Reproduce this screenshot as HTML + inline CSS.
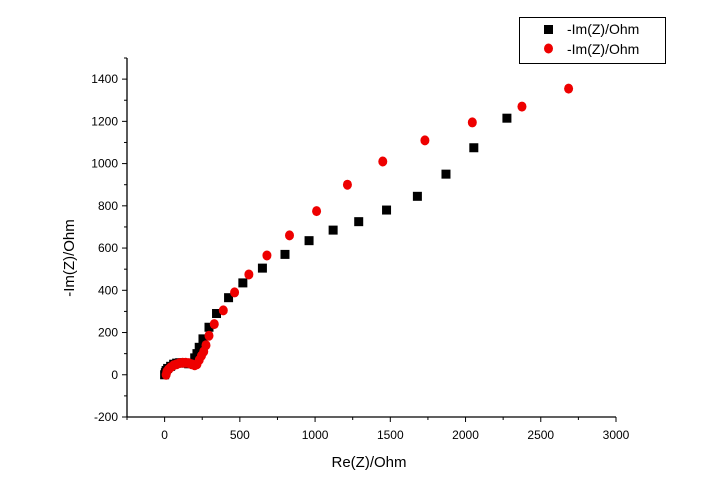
<!DOCTYPE html>
<html><head><meta charset="utf-8"><style>
body{margin:0;background:#fff;}
svg{display:block;font-family:"Liberation Sans",Arial,sans-serif;}
</style></head><body>
<svg id="chart" width="713" height="502">
<g id="axes"></g><g id="marks"></g>
<g>
<rect x="519.5" y="17.5" width="146" height="46" fill="#fff" stroke="#000" stroke-width="1"/>
<rect x="544" y="25" width="9" height="9" fill="#000"/>
<text x="567" y="34" font-size="14">-Im(Z)/Ohm</text>
<ellipse cx="548.5" cy="48.5" rx="4.5" ry="5" fill="#e00"/>
<text x="567" y="54" font-size="14">-Im(Z)/Ohm</text>
</g>
<text x="369" y="467" font-size="15" text-anchor="middle">Re(Z)/Ohm</text>
<text transform="translate(74,258) rotate(-90)" font-size="15" text-anchor="middle">-Im(Z)/Ohm</text>
</svg>
<script>
const xTicks=[0,500,1000,1500,2000,2500,3000];
const yTicks=[-200,0,200,400,600,800,1000,1200,1400];
const blackX=[0,5,10,20,40,60,80,100,120,140,160,180,200,215,230,255,295,345,425,520,650,800,960,1120,1290,1475,1680,1870,2055,2275];
const blackY=[0,10,20,30,40,50,55,57,57,55,52,55,80,100,130,170,225,290,365,435,505,570,635,685,725,780,845,950,1075,1215];
const redX=[10,15,25,40,60,80,100,120,140,160,180,200,215,230,245,260,275,295,330,390,465,560,680,830,1010,1215,1450,1730,2045,2375,2685];
const redY=[0,15,25,35,45,50,55,57,57,55,50,45,50,70,90,110,140,185,240,305,390,475,565,660,775,900,1010,1110,1195,1270,1355];
const X0=127,X1=616,XMIN=-250,XMAX=3000,Y0=417,Y1=58,YMIN=-200,YMAX=1500;
const sx=v=>X0+(v-XMIN)/(XMAX-XMIN)*(X1-X0);
const sy=v=>Y0-(v-YMIN)/(YMAX-YMIN)*(Y0-Y1);
const NS="http://www.w3.org/2000/svg";
const axes=document.getElementById('axes'),marks=document.getElementById('marks');
function mk(t,a,p){const e=document.createElementNS(NS,t);for(const k in a)e.setAttribute(k,a[k]);p.appendChild(e);return e;}
let e;
e=mk('line',{x1:X0,y1:Y0,x2:X1,y2:Y0,stroke:'#000','stroke-width':1.3},axes);


e=mk('line',{x1:X0,y1:Y0,x2:X0,y2:Y1,stroke:'#000','stroke-width':1.3},axes);


for(let v=-250;v<=3000;v+=250){const major=v%500===0;
 e=mk('line',{x1:sx(v),y1:Y0,x2:sx(v),y2:Y0+(major?5:3),stroke:'#000'},axes);
 
 }
xTicks.forEach(v=>{e=mk('text',{x:sx(v),y:Y0+22,'font-size':12,'text-anchor':'middle'},axes);e.textContent=v;
 
 });
for(let v=-200;v<=1500;v+=100){const major=v%200===0;
 e=mk('line',{x1:X0,y1:sy(v),x2:X0-(major?5:3),y2:sy(v),stroke:'#000'},axes);
 
 }
yTicks.forEach(v=>{e=mk('text',{x:X0-9,y:sy(v)+4,'font-size':12,'text-anchor':'end'},axes);e.textContent=v;
 
 });
blackX.forEach((v,i)=>{e=mk('rect',{x:sx(v)-4.5,y:sy(blackY[i])-4.5,width:9,height:9,fill:'#000'},marks);
 
 });
redX.forEach((v,i)=>{e=mk('ellipse',{cx:sx(v),cy:sy(redY[i]),rx:4.5,ry:5,fill:'#e00'},marks);
 
 });
</script>
</body></html>
